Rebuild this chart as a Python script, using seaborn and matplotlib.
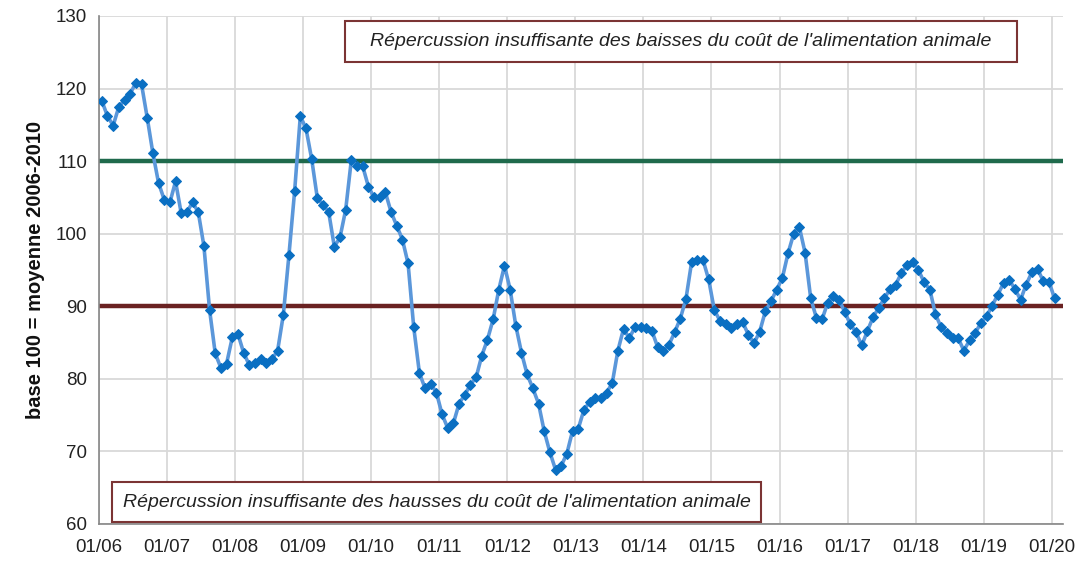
import numpy as np
import pandas as pd
import matplotlib
matplotlib.use("Agg")
import matplotlib.pyplot as plt
from matplotlib.patches import Rectangle
import seaborn as sns

# Indice mensuel (base 100 = moyenne 2006-2010), de 01/06 a 01/20
indice = [
    118.3, 116.2, 114.9, 117.5, 118.4, 119.3, 120.8, 120.6, 116.0, 111.1, 107.0, 104.7,
    104.3, 107.2, 102.8, 103.0, 104.3, 103.0, 98.3, 89.5, 83.5, 81.5, 82.1, 85.7,
    86.2, 83.6, 81.9, 82.2, 82.7, 82.2, 82.7, 83.9, 88.8, 97.1, 105.9, 116.2,
    114.5, 110.3, 104.9, 104.0, 103.0, 98.2, 99.5, 103.3, 110.2, 109.3, 109.3, 106.5,
    105.0, 105.1, 105.7, 103.0, 101.1, 99.2, 95.9, 87.1, 80.8, 78.7, 79.3, 78.1,
    75.1, 73.2, 73.9, 76.6, 77.8, 79.2, 80.2, 83.2, 85.4, 88.2, 92.3, 95.6,
    92.3, 87.3, 83.6, 80.6, 78.7, 76.6, 72.8, 69.9, 67.5, 68.0, 69.7, 72.8,
    73.1, 75.7, 76.8, 77.4, 77.4, 78.1, 79.4, 83.9, 86.9, 85.6, 87.1, 87.2,
    87.0, 86.6, 84.4, 83.8, 84.7, 86.4, 88.3, 91.0, 96.1, 96.4, 96.4, 93.7,
    89.5, 88.0, 87.6, 87.0, 87.5, 87.8, 86.1, 84.9, 86.5, 89.3, 90.7, 92.3,
    93.9, 97.3, 100.0, 100.9, 97.4, 91.1, 88.4, 88.2, 90.5, 91.4, 90.9, 89.2,
    87.5, 86.4, 84.6, 86.6, 88.5, 89.8, 91.1, 92.4, 93.0, 94.6, 95.7, 96.1,
    95.0, 93.3, 92.3, 88.9, 87.1, 86.3, 85.6, 85.6, 83.9, 85.3, 86.3, 87.7,
    88.6, 90.1, 91.6, 93.2, 93.6, 92.4, 90.9, 93.0, 94.7, 95.1, 93.5, 93.4,
    91.1,
]
etiquettes_x = ["01/06", "01/07", "01/08", "01/09", "01/10", "01/11", "01/12",
                "01/13", "01/14", "01/15", "01/16", "01/17", "01/18", "01/19", "01/20"]
seuil_haut = 110
seuil_bas = 90
texte_haut = "Répercussion insuffisante des baisses du coût de l'alimentation animale"
texte_bas = "Répercussion insuffisante des hausses du coût de l'alimentation animale"

df = pd.DataFrame({"mois": np.arange(len(indice)) + 0.5, "indice": indice})

sns.set_style("white")
plt.rcParams["font.family"] = ["Liberation Sans", "DejaVu Sans"]

fig = plt.figure(figsize=(10.76, 5.63), dpi=100)
ax = fig.add_axes([0.092, 0.0693, 0.896, 0.9023])

ax.grid(True, color="#d9d9d9", linewidth=1.3)
ax.set_axisbelow(True)

ax.axhline(seuil_haut, color="#1f6a4c", linewidth=3.2, zorder=2)
ax.axhline(seuil_bas, color="#6a2222", linewidth=3.2, zorder=2)

sns.lineplot(data=df, x="mois", y="indice", ax=ax, color="#5b97da", linewidth=2.6,
             marker="D", markersize=5.5, markerfacecolor="#0a6fc2",
             markeredgecolor="#0a6fc2", zorder=3)

ax.set_xlim(0, 170)
ax.set_ylim(60, 130)
ax.set_xticks(np.arange(0, 12 * len(etiquettes_x), 12))
ax.set_xticklabels(etiquettes_x)
ax.set_yticks(np.arange(60, 131, 10))
ax.tick_params(axis="both", labelsize=13.5, color="#868686", length=5, width=1,
               direction="out", labelcolor="#222222")
ax.tick_params(axis="x", pad=6)
ax.set_xlabel("")
ax.set_ylabel("base 100 = moyenne 2006-2010", fontsize=14.5, fontweight="bold",
              color="#111111", labelpad=8)

for s in ["top", "right"]:
    ax.spines[s].set_visible(False)
for s in ["left", "bottom"]:
    ax.spines[s].set_color("#868686")
    ax.spines[s].set_linewidth(1.2)

# encadres de texte
for (x0, y0, w, h, cx, cy, txt) in [
    (0.3206, 0.8899, 0.6245, 0.0728, 0.6329, 0.9263, texte_haut),
    (0.1041, 0.0728, 0.6032, 0.0710, 0.4057, 0.1083, texte_bas),
]:
    fig.patches.append(Rectangle((x0, y0), w, h, transform=fig.transFigure,
                                 facecolor="white", edgecolor="#7b3434",
                                 linewidth=1.5, zorder=5))
    fig.text(cx, cy, txt, ha="center", va="center", fontsize=14,
             style="italic", color="#222222", zorder=6)

plt.savefig("out.png", dpi=100)
plt.close()
